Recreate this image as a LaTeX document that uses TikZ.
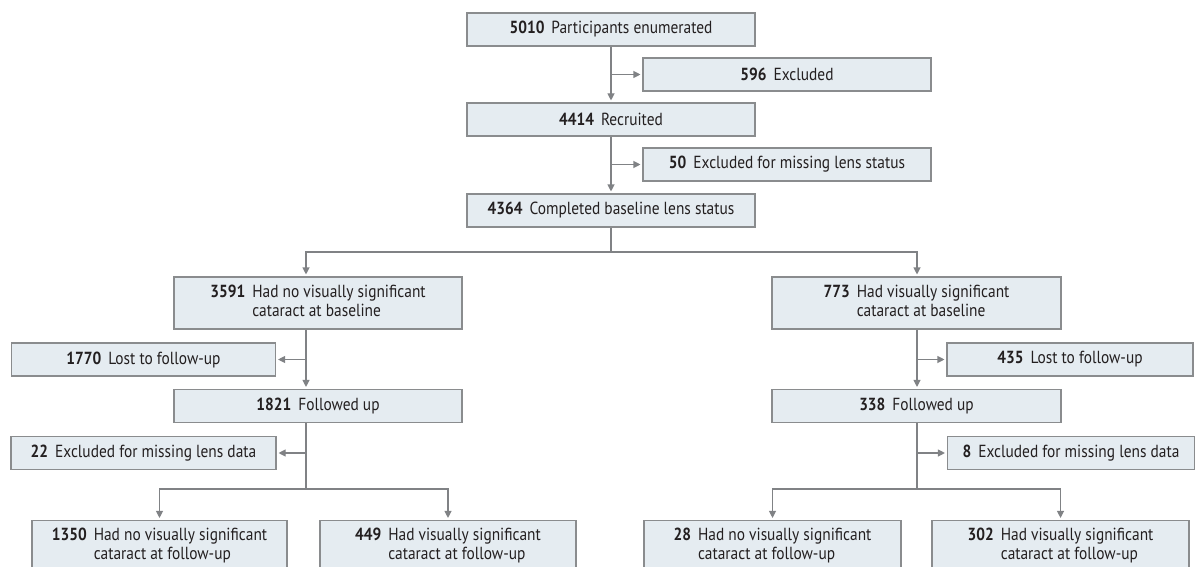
\documentclass[tikz,border=0pt]{standalone}
\usepackage{fontspec}
\setmainfont{PT Sans}[FakeStretch=0.88]
\usepackage{tikz}
\usetikzlibrary{positioning,arrows.meta,calc}
\definecolor{boxfill}{RGB}{229,236,241}
\definecolor{boxline}{RGB}{138,140,142}
\definecolor{linkgray}{RGB}{128,130,133}
\definecolor{inkdark}{RGB}{35,31,32}
\newcommand{\countline}[2]{\textbf{#1}\hspace{0.4em}#2}
\newcommand{\counttwo}[3]{\textbf{#1}\hspace{0.4em}\begin{tabular}[t]{@{}l@{}}#2\\#3\end{tabular}}
\tikzset{
  flowbox/.style={draw=boxline,fill=boxfill,line width=1.1pt,text=inkdark,
    inner sep=0pt,minimum height=33pt,align=center},
  tallbox/.style={flowbox,minimum height=52pt},
  arr/.style={draw=linkgray,line width=1.1pt,shorten >=2pt,
    -{Triangle[length=7pt,width=7pt]}},
  link/.style={draw=linkgray,line width=1.1pt}
}

\begin{document}
\begin{tikzpicture}[x=1pt,y=-1pt,font=\fontsize{17.5}{19}\selectfont]
        \useasboundingbox (0,0) rectangle (1204,567);
        % top column
        \node[flowbox,minimum width=288pt] (enum) at (611,29.5) {\countline{5010}{Participants enumerated}};
        \node[flowbox,minimum width=288pt] (excl1) at (787,74.5) {\countline{596}{Excluded}};
        \node[flowbox,minimum width=288pt] (recr) at (611,119.5) {\countline{4414}{Recruited}};
        \node[flowbox,minimum width=288pt] (excl2) at (787,164.5) {\countline{50}{Excluded for missing lens status}};
        \node[flowbox,minimum width=288pt] (base) at (611,210.5) {\countline{4364}{Completed baseline lens status}};
        % two arms
        \node[tallbox,minimum width=288pt] (noCat) at (318,303) {\counttwo{3591}{Had no visually significant}{cataract at baseline}};
        \node[tallbox,minimum width=289pt] (cat) at (916.5,303) {\counttwo{773}{Had visually significant}{cataract at baseline}};
        \node[flowbox,minimum width=264pt] (lostL) at (143.5,359.5) {\countline{1770}{Lost to follow-up}};
        \node[flowbox,minimum width=246pt] (lostR) at (1070,359.5) {\countline{435}{Lost to follow-up}};
        \node[flowbox,minimum width=288pt] (fuL) at (318,406) {\countline{1821}{Followed up}};
        \node[flowbox,minimum width=289pt] (fuR) at (916.5,406) {\countline{338}{Followed up}};
        \node[flowbox,minimum width=265pt] (exL) at (143.5,453) {\countline{22}{Excluded for missing lens data}};
        \node[flowbox,minimum width=247pt] (exR) at (1071,453) {\countline{8}{Excluded for missing lens data}};
        % outcomes
        \node[tallbox,minimum width=255pt] (noF1) at (159.5,546.5) {\counttwo{1350}{Had no visually significant}{cataract at follow-up}};
        \node[tallbox,minimum width=256pt] (catF1) at (448,546.5) {\counttwo{449}{Had visually significant}{cataract at follow-up}};
        \node[tallbox,minimum width=257pt] (noF2) at (772.5,546.5) {\counttwo{28}{Had no visually significant}{cataract at follow-up}};
        \node[tallbox,minimum width=257pt] (catF2) at (1060.5,546.5) {\counttwo{302}{Had visually significant}{cataract at follow-up}};

        \coordinate (forkL) at (306,252);
        \coordinate (forkR) at (917,252);
        \coordinate (subL) at (306,489);
        \coordinate (subR) at (917,489);

        \draw[arr] (enum) -- (recr);
        \draw[arr] (enum.south |- excl1) -- (excl1);
        \draw[arr] (recr) -- (base);
        \draw[arr] (recr.south |- excl2) -- (excl2);
        \draw[link] (base.south) -- (base.south |- forkL);
        \draw[arr] (base.south |- forkL) -- (forkL) -- (forkL |- noCat.north);
        \draw[arr] (base.south |- forkR) -- (forkR) -- (forkR |- cat.north);
        % left arm
        \draw[arr] (noCat.south -| forkL) -- (fuL.north -| forkL);
        \draw[arr] (forkL |- lostL) -- (lostL.east);
        \draw[link] (fuL.south -| subL) -- (subL);
        \draw[arr] (subL |- exL) -- (exL.east);
        \draw[arr] (subL) -| (noF1.north);
        \draw[arr] (subL) -| (catF1.north);
        % right arm
        \draw[arr] (cat.south -| forkR) -- (fuR.north -| forkR);
        \draw[arr] (forkR |- lostR) -- (lostR.west);
        \draw[link] (fuR.south -| subR) -- (subR);
        \draw[arr] (subR |- exR) -- (exR.west);
        \draw[arr] (subR) -| (noF2.north);
        \draw[arr] (subR) -| (catF2.north);
      \end{tikzpicture}
\end{document}
